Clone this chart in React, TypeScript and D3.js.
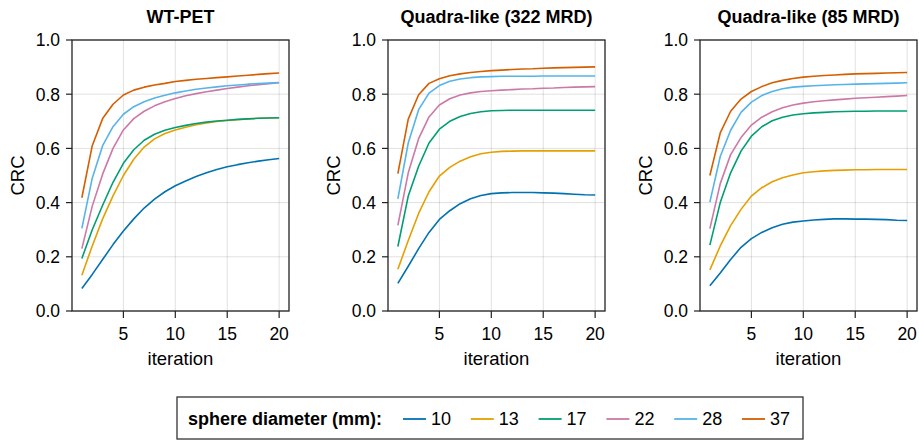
import React from "react";
import * as d3 from "d3";

const iterations = d3.range(1, 21);
const sphereDiameters = ["10", "13", "17", "22", "28", "37"];
const seriesColors = ["#0072B2", "#E69F00", "#009E73", "#CC79A7", "#56B4E9", "#D55E00"];
const panelTitles = ["WT-PET", "Quadra-like (322 MRD)", "Quadra-like (85 MRD)"];
const yTicks = [0, 0.2, 0.4, 0.6, 0.8, 1.0];
const xTicks = [5, 10, 15, 20];

// WT-PET
const wt10 = [0.083, 0.135, 0.19, 0.245, 0.295, 0.34, 0.38, 0.413, 0.44, 0.462, 0.48, 0.496, 0.51, 0.522, 0.532, 0.54, 0.547, 0.553, 0.558, 0.563];
const wt13 = [0.132, 0.24, 0.34, 0.425, 0.5, 0.56, 0.605, 0.635, 0.655, 0.668, 0.678, 0.687, 0.694, 0.699, 0.703, 0.706, 0.709, 0.711, 0.712, 0.713];
const wt17 = [0.194, 0.3, 0.39, 0.475, 0.545, 0.595, 0.63, 0.652, 0.667, 0.677, 0.685, 0.692, 0.697, 0.701, 0.704, 0.707, 0.709, 0.711, 0.712, 0.713];
const wt22 = [0.23, 0.387, 0.505, 0.6, 0.668, 0.71, 0.737, 0.757, 0.772, 0.784, 0.794, 0.802, 0.809, 0.815, 0.821, 0.826, 0.831, 0.835, 0.839, 0.842];
const wt28 = [0.305, 0.49, 0.61, 0.68, 0.726, 0.754, 0.772, 0.786, 0.796, 0.805, 0.812, 0.818, 0.823, 0.827, 0.831, 0.834, 0.837, 0.839, 0.841, 0.843];
const wt37 = [0.418, 0.61, 0.71, 0.763, 0.797, 0.815, 0.826, 0.834, 0.84, 0.847, 0.851, 0.855, 0.858, 0.861, 0.864, 0.867, 0.87, 0.873, 0.876, 0.878];

// Quadra-like (322 MRD)
const q322_10 = [0.102, 0.165, 0.23, 0.29, 0.338, 0.37, 0.396, 0.414, 0.426, 0.433, 0.436, 0.437, 0.437, 0.437, 0.436, 0.435, 0.433, 0.431, 0.429, 0.428];
const q322_13 = [0.154, 0.26, 0.36, 0.44, 0.498, 0.53, 0.553, 0.569, 0.58, 0.586, 0.589, 0.59, 0.591, 0.591, 0.591, 0.591, 0.591, 0.591, 0.591, 0.591];
const q322_17 = [0.238, 0.424, 0.534, 0.62, 0.671, 0.7, 0.718, 0.729, 0.735, 0.739, 0.74, 0.741, 0.741, 0.741, 0.741, 0.741, 0.741, 0.741, 0.741, 0.741];
const q322_22 = [0.316, 0.51, 0.636, 0.716, 0.76, 0.783, 0.797, 0.805, 0.81, 0.813, 0.815, 0.817, 0.819, 0.82, 0.822, 0.823, 0.825, 0.826, 0.827, 0.828];
const q322_28 = [0.414, 0.62, 0.743, 0.804, 0.832, 0.848, 0.856, 0.861, 0.864, 0.865, 0.866, 0.866, 0.866, 0.866, 0.867, 0.867, 0.867, 0.867, 0.867, 0.867];
const q322_37 = [0.507, 0.708, 0.798, 0.84, 0.857, 0.868, 0.875, 0.88, 0.884, 0.887, 0.889, 0.891, 0.893, 0.894, 0.896, 0.897, 0.898, 0.899, 0.9, 0.901];

// Quadra-like (85 MRD)
const q85_10 = [0.093, 0.14, 0.19, 0.235, 0.267, 0.29, 0.307, 0.32, 0.328, 0.332, 0.336, 0.338, 0.34, 0.34, 0.339, 0.339, 0.338, 0.337, 0.335, 0.334];
const q85_13 = [0.152, 0.24, 0.315, 0.375, 0.424, 0.455, 0.477, 0.492, 0.502, 0.51, 0.514, 0.517, 0.519, 0.52, 0.521, 0.521, 0.522, 0.522, 0.522, 0.522];
const q85_17 = [0.243, 0.4, 0.51, 0.59, 0.645, 0.68, 0.702, 0.715, 0.723, 0.728, 0.731, 0.733, 0.735, 0.736, 0.737, 0.737, 0.738, 0.738, 0.738, 0.738];
const q85_22 = [0.304, 0.47, 0.577, 0.64, 0.686, 0.715, 0.735, 0.75, 0.76, 0.767, 0.772, 0.776, 0.779, 0.782, 0.785, 0.787, 0.789, 0.791, 0.793, 0.795];
const q85_28 = [0.402, 0.57, 0.667, 0.733, 0.771, 0.795, 0.81, 0.82, 0.826, 0.829, 0.831, 0.833, 0.835, 0.836, 0.837, 0.838, 0.839, 0.84, 0.841, 0.842];
const q85_37 = [0.5, 0.657, 0.737, 0.782, 0.81, 0.828, 0.842, 0.851, 0.858, 0.863, 0.866, 0.869, 0.871, 0.873, 0.875, 0.876, 0.877, 0.878, 0.879, 0.88];

const panelData = [
  [wt10, wt13, wt17, wt22, wt28, wt37],
  [q322_10, q322_13, q322_17, q322_22, q322_28, q322_37],
  [q85_10, q85_13, q85_17, q85_22, q85_28, q85_37],
];

const W = 919;
const H = 440;
const FONT = "'Liberation Sans', Arial, Helvetica, sans-serif";
const panelLefts = [72, 388, 700];
const plotW = 217;
const plotTop = 40;
const plotBottom = 311;

function Panel({ left, title, data }: { left: number; title: string; data: number[][] }) {
  const x = d3.scaleLinear().domain([0.05, 20.95]).range([left, left + plotW]);
  const y = d3.scaleLinear().domain([0, 1]).range([plotBottom, plotTop]);
  const line = d3
    .line<number>()
    .x((_, i) => x(iterations[i]))
    .y((d) => y(d));
  const cx = left + plotW / 2;
  const cy = (plotTop + plotBottom) / 2;
  return (
    <g>
      <text x={cx} y={23} textAnchor="middle" fontFamily={FONT} fontWeight="bold" fontSize={18} fill="#000">
        {title}
      </text>
      {yTicks.map((t) => (
        <line key={"gy" + t} x1={left} x2={left + plotW} y1={y(t)} y2={y(t)} stroke="#000" strokeOpacity={0.12} strokeWidth={1} />
      ))}
      {xTicks.map((t) => (
        <line key={"gx" + t} x1={x(t)} x2={x(t)} y1={plotTop} y2={plotBottom} stroke="#000" strokeOpacity={0.12} strokeWidth={1} />
      ))}
      {data.map((s, i) => (
        <path key={i} d={line(s) || ""} fill="none" stroke={seriesColors[i]} strokeWidth={1.6} strokeLinejoin="round" />
      ))}
      <rect x={left} y={plotTop} width={plotW} height={plotBottom - plotTop} fill="none" stroke="#222" strokeWidth={1.3} />
      {yTicks.map((t) => (
        <g key={"ty" + t}>
          <line x1={left - 6} x2={left} y1={y(t)} y2={y(t)} stroke="#222" strokeWidth={1.2} />
          <text x={left - 12} y={y(t)} dy="0.36em" textAnchor="end" fontFamily={FONT} fontSize={17.5} fill="#000">
            {d3.format(".1f")(t)}
          </text>
        </g>
      ))}
      {xTicks.map((t) => (
        <g key={"tx" + t}>
          <line x1={x(t)} x2={x(t)} y1={plotBottom} y2={plotBottom + 7} stroke="#222" strokeWidth={1.2} />
          <text x={x(t)} y={340} textAnchor="middle" fontFamily={FONT} fontSize={17.5} fill="#000">
            {t}
          </text>
        </g>
      ))}
      <text x={cx} y={365} textAnchor="middle" fontFamily={FONT} fontSize={18.5} fill="#000">
        iteration
      </text>
      <text
        transform={`translate(${left - 55},${cy}) rotate(-90)`}
        textAnchor="middle"
        dy="0.36em"
        fontFamily={FONT}
        fontSize={18.5}
        fill="#000"
      >
        CRC
      </text>
    </g>
  );
}

function Legend() {
  const boxX = 177;
  const boxY = 397;
  const boxW = 626;
  const boxH = 42;
  const itemX = d3.scaleLinear().domain([0, 5]).range([403, 742]);
  const ty = 425;
  return (
    <g>
      <rect x={boxX} y={boxY} width={boxW} height={boxH} fill="#fff" stroke="#222" strokeWidth={1.2} />
      <text x={188} y={ty} fontFamily={FONT} fontWeight="bold" fontSize={18} fill="#000">
        sphere diameter (mm):
      </text>
      {sphereDiameters.map((d, i) => (
        <g key={d}>
          <line x1={itemX(i)} x2={itemX(i) + 23} y1={ty - 6} y2={ty - 6} stroke={seriesColors[i]} strokeWidth={1.8} />
          <text x={itemX(i) + 28} y={ty} fontFamily={FONT} fontSize={18} fill="#000">
            {d}
          </text>
        </g>
      ))}
    </g>
  );
}

export default function App() {
  return (
    <svg width={W} height={H} style={{ position: "absolute", left: 0, top: 0, background: "#fff" }}>
      <rect x={0} y={0} width={W} height={H} fill="#fff" />
      {panelTitles.map((t, i) => (
        <Panel key={t} left={panelLefts[i]} title={t} data={panelData[i]} />
      ))}
      <Legend />
    </svg>
  );
}
